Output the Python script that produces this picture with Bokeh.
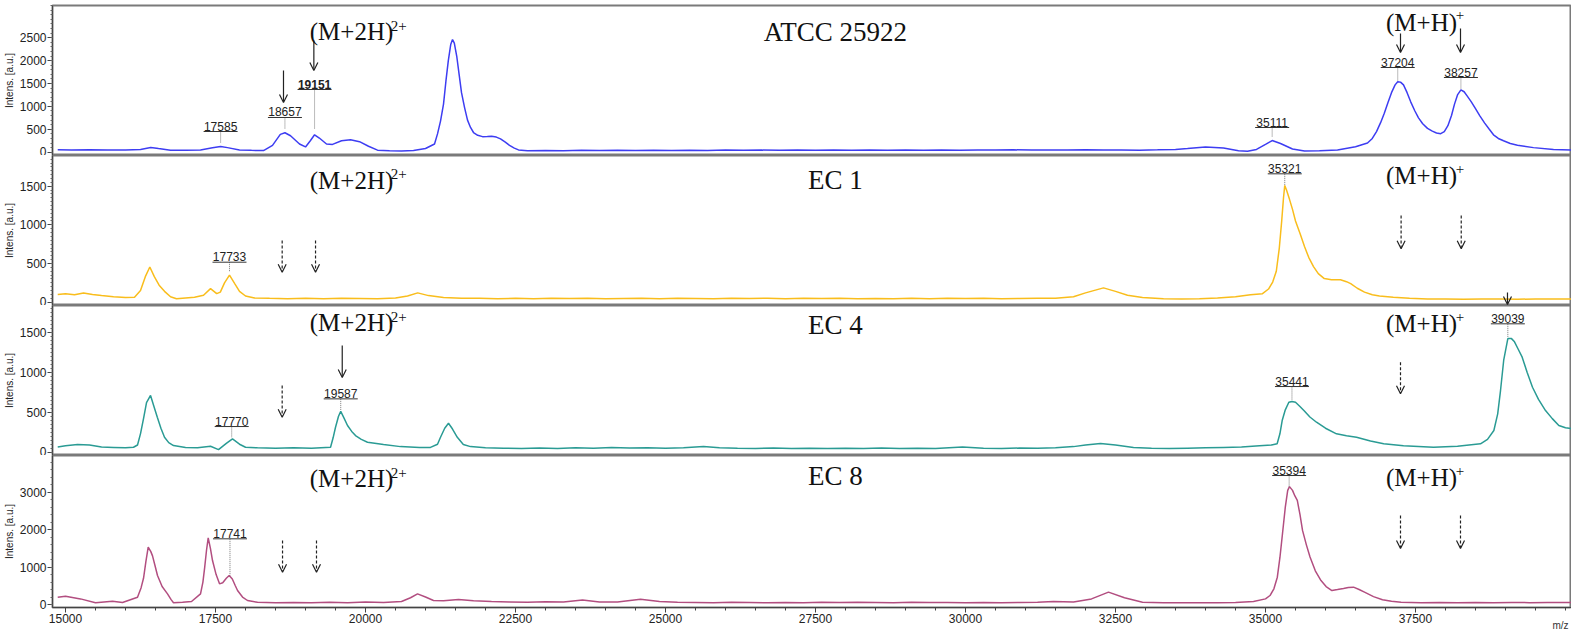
import math
from bokeh.plotting import figure
from bokeh.layouts import column
from bokeh.models import (Range1d, FixedTicker, Label, Arrow, OpenHead,
                          ColumnDataSource, LinearAxis)
from bokeh.embed import file_html
from bokeh.resources import INLINE

# ---------------- data ----------------
atcc_mz = [
    14870, 15100, 15400, 15700, 16000, 16250, 16420, 16550, 16750, 17000,
    17250, 17450, 17585, 17700, 17900, 18100, 18300, 18450, 18580, 18657,
    18750, 18900, 19000, 19080, 19151, 19230, 19350, 19450, 19600, 19750,
    19900, 20050, 20200, 20400, 20600, 20800, 21000, 21150, 21200, 21250,
    21300, 21340, 21380, 21420, 21450, 21480, 21520, 21560, 21600, 21650,
    21700, 21750, 21800, 21870, 21950, 22030, 22100, 22180, 22250, 22330,
    22400, 22480, 22550, 22700, 23000, 23300, 23600, 23900, 24200, 24500,
    24800, 25100, 25400, 25700, 26000, 26300, 26600, 26900, 27200, 27500,
    27800, 28100, 28400, 28700, 29000, 29300, 29600, 29900, 30200, 30500,
    30800, 31100, 31400, 31700, 32000, 32300, 32600, 32900, 33200, 33500,
    33700, 34000, 34300, 34550, 34700, 34850, 35000, 35111, 35250, 35450,
    35650, 35900, 36200, 36500, 36620, 36700, 36780, 36850, 36920, 36980,
    37040, 37100, 37160, 37204, 37250, 37300, 37360, 37420, 37490, 37550,
    37620, 37700, 37780, 37850, 37920, 37980, 38040, 38100, 38150, 38200,
    38257, 38310, 38360, 38430, 38500, 38570, 38650, 38730, 38800, 38880,
    38967, 39080, 39200, 39467, 39800, 40100]
atcc_int = [
    55, 50, 52, 48, 50, 60, 105, 80, 45, 40,
    50, 95, 125, 100, 50, 40, 35, 150, 390, 425,
    360, 180, 115, 250, 380, 310, 180, 170, 250, 270,
    230, 130, 45, 30, 25, 35, 80, 180, 400, 680,
    1050, 1550, 2000, 2350, 2460, 2380, 2100, 1700, 1300, 980,
    700, 540, 430, 370, 340, 345, 350, 330, 290, 220,
    150, 90, 50, 30, 38, 32, 40, 35, 42, 36,
    44, 38, 45, 39, 47, 40, 46, 41, 48, 42,
    47, 43, 49, 44, 50, 45, 48, 44, 50, 46,
    52, 47, 50, 48, 53, 47, 50, 45, 52, 60,
    80, 115, 90, 30, 20, 60, 170, 255, 190, 70,
    25, 30, 50, 120, 170, 200, 300, 450, 650, 850,
    1080, 1300, 1470, 1540, 1530, 1470, 1300, 1100, 900, 750,
    620, 520, 460, 420, 405, 450, 580, 800, 1050, 1250,
    1360, 1320, 1230, 1100, 950, 800, 640, 500, 380, 300,
    250, 190, 150, 100, 60, 45]

ec1_mz = [
    14870, 15000, 15150, 15300, 15450, 15600, 15800, 16000, 16150, 16250,
    16330, 16405, 16480, 16560, 16650, 16750, 16850, 17000, 17150, 17300,
    17417, 17520, 17580, 17650, 17733, 17820, 17900, 18000, 18150, 18400,
    18700, 19000, 19300, 19600, 19900, 20200, 20500, 20700, 20870, 21050,
    21300, 21600, 21900, 22200, 22500, 22800, 23100, 23400, 23700, 24000,
    24300, 24600, 24900, 25200, 25500, 25800, 26100, 26400, 26700, 27000,
    27300, 27600, 27900, 28200, 28500, 28800, 29100, 29400, 29700, 30000,
    30300, 30600, 30900, 31200, 31500, 31800, 32000, 32300, 32500, 32700,
    32950, 33300, 33600, 33900, 34200, 34500, 34750, 34950, 35050, 35120,
    35180, 35230, 35270, 35300, 35321, 35350, 35400, 35450, 35500, 35580,
    35650, 35720, 35800, 35880, 35980, 36100, 36250, 36350, 36420, 36530,
    36650, 36780, 36900, 37130, 37400, 37700, 38000, 38300, 38600, 38900,
    39200, 39500, 39800, 40100]
ec1_int = [
    100, 110, 95, 120, 100, 85, 70, 60, 65, 150,
    330, 455, 330, 220, 140, 70, 45, 55, 65, 90,
    175, 110, 130, 250, 350, 240, 140, 80, 55, 50,
    45, 50, 45, 50, 48, 45, 55, 80, 120, 85,
    60, 50, 52, 45, 50, 44, 52, 46, 50, 44,
    48, 52, 45, 50, 47, 44, 50, 46, 52, 45,
    50, 46, 52, 45, 48, 44, 50, 45, 52, 46,
    50, 44, 48, 52, 50, 70, 120, 185, 140, 90,
    60, 45, 40, 45, 55, 70, 95, 110, 170, 260,
    400, 700, 1050, 1350, 1510, 1450, 1330, 1200, 1050, 880,
    720, 580, 460, 370, 305, 290, 290, 265, 240, 180,
    130, 95, 80, 65, 50, 40, 42, 38, 42, 40,
    38, 42, 40, 42]

ec4_mz = [
    14870, 15000, 15200, 15400, 15600, 15800, 16000, 16133, 16200, 16250,
    16300, 16350, 16417, 16470, 16530, 16590, 16650, 16720, 16800, 17000,
    17200, 17417, 17550, 17680, 17783, 17900, 18000, 18200, 18500, 18800,
    19100, 19417, 19460, 19500, 19550, 19587, 19640, 19700, 19770, 19833,
    19930, 20033, 20300, 20583, 20900, 21083, 21200, 21250, 21320, 21383,
    21450, 21530, 21630, 21750, 22000, 22300, 22600, 22900, 23200, 23500,
    23800, 24100, 24400, 24700, 25000, 25300, 25633, 25900, 26200, 26500,
    26800, 27100, 27400, 27700, 28000, 28300, 28600, 28900, 29200, 29500,
    29950, 30300, 30600, 30900, 31200, 31500, 31800, 32000, 32250, 32500,
    32800, 33100, 33400, 33700, 34000, 34300, 34600, 34900, 35100, 35194,
    35240, 35278, 35330, 35389, 35441, 35500, 35570, 35640, 35740, 35850,
    36000, 36183, 36350, 36517, 36750, 36970, 37300, 37800, 38200, 38583,
    38700, 38806, 38870, 38917, 38970, 39039, 39100, 39150, 39210, 39278,
    39360, 39450, 39550, 39667, 39780, 39889, 40000, 40100]
ec4_int = [
    65, 80, 95, 90, 65, 60, 55, 62, 90, 233,
    420, 620, 710, 580, 437, 300, 187, 120, 83, 60,
    55, 75, 33, 110, 167, 100, 62, 55, 50, 55,
    50, 62, 180, 312, 450, 510, 430, 334, 260, 208,
    160, 125, 96, 70, 60, 60, 100, 187, 300, 362,
    290, 187, 96, 70, 55, 50, 45, 52, 48, 55,
    50, 58, 52, 55, 50, 55, 70, 55, 50, 48,
    52, 46, 50, 45, 50, 46, 52, 48, 50, 46,
    65, 50, 46, 52, 50, 55, 70, 90, 110, 90,
    60, 50, 45, 50, 55, 60, 65, 80, 90, 105,
    230, 396, 530, 625, 635, 625, 575, 521, 440, 375,
    300, 230, 205, 187, 140, 105, 80, 62, 75, 105,
    160, 271, 480, 771, 1150, 1420, 1420, 1380, 1290, 1188,
    1000, 812, 660, 521, 420, 334, 305, 295]

ec8_mz = [
    14870, 15000, 15250, 15500, 15783, 15950, 16200, 16260, 16300, 16340,
    16378, 16420, 16450, 16490, 16533, 16610, 16700, 16760, 16800, 16950,
    17100, 17250, 17290, 17320, 17350, 17378, 17415, 17450, 17510, 17567,
    17620, 17680, 17728, 17780, 17830, 17867, 17950, 18033, 18200, 18500,
    18800, 19100, 19400, 19700, 20000, 20300, 20600, 20750, 20867, 21000,
    21133, 21300, 21550, 21800, 22100, 22400, 22700, 23000, 23300, 23617,
    23900, 24200, 24583, 24900, 25200, 25500, 25800, 26100, 26400, 26700,
    27000, 27300, 27600, 27900, 28200, 28500, 28800, 29100, 29400, 29700,
    30000, 30300, 30600, 30900, 31200, 31467, 31800, 32100, 32383, 32650,
    32950, 33300, 33600, 33900, 34200, 34500, 34800, 35000, 35075, 35140,
    35197, 35240, 35283, 35330, 35370, 35400, 35450, 35490, 35530, 35575,
    35617, 35680, 35742, 35830, 35925, 36010, 36107, 36200, 36300, 36380,
    36467, 36560, 36650, 36800, 36950, 37100, 37260, 37600, 37900, 38200,
    38500, 38800, 39100, 39400, 39700, 40100]
ec8_int = [
    195, 222, 150, 45, 88, 53, 195, 450, 700, 1150,
    1530, 1420, 1300, 1050, 775, 480, 285, 130, 45, 60,
    80, 285, 600, 1000, 1450, 1780, 1500, 1175, 800, 552,
    580, 700, 775, 680, 500, 374, 200, 107, 60, 50,
    55, 45, 60, 50, 65, 55, 80, 180, 285, 200,
    107, 100, 133, 100, 80, 70, 60, 75, 65, 120,
    70, 65, 140, 80, 60, 55, 50, 60, 55, 48,
    55, 50, 58, 52, 60, 55, 50, 58, 52, 55,
    50, 55, 48, 52, 60, 80, 70, 150, 330, 180,
    62, 50, 45, 48, 45, 55, 80, 150, 240, 420,
    730, 1250, 1890, 2600, 3050, 3150, 3050, 2900, 2780, 2400,
    1980, 1600, 1270, 900, 640, 480, 374, 400, 430, 455,
    463, 400, 330, 210, 125, 85, 62, 50, 55, 50,
    55, 50, 55, 50, 55, 52]

strain_names = ["ATCC 25922", "EC 1", "EC 4", "EC 8"]

# labelled peaks: m/z, label (underline) height, peak-top height
p1_peaks = [17585, 18657, 19151, 35111, 37204, 38257]
p1_lab_y = [452, 758, 1369, 539, 1849, 1631]
p1_top_y = [190, 517, 496, 321, 1565, 1369]
p2_peaks = [17733, 35321]
p2_lab_y = [517, 1660]
p2_top_y = [388, 1509]
p3_peaks = [17770, 19587, 35441, 39039]
p3_lab_y = [321, 667, 821, 1605]
p3_top_y = [187, 521, 646, 1437]
p4_peaks = [17741, 35394]
p4_lab_y = [1755, 3446]
p4_top_y = [775, 3134]

# expected ion positions (arrows): m/z, start, end, solid?
p1_arrows = [(18633, 1783, 1083, True), (19139, 2439, 1783, True),
             (37250, 2592, 2177, True), (38250, 2701, 2177, True)]
p2_arrows = [(18611, 798, 388, False), (19167, 798, 388, False),
             (37260, 1121, 690, False), (38262, 1121, 690, False),
             (39033, 125, -30, True)]
p3_arrows = [(18611, 834, 437, False), (19612, 1334, 934, True),
             (37250, 1125, 730, False)]
p4_arrows = [(18617, 1710, 863, False), (19183, 1710, 863, False),
             (37250, 2378, 1496, False), (38250, 2378, 1496, False)]

x_major = [15000, 17500, 20000, 22500, 25000, 27500, 30000, 32500, 35000, 37500]
x_unit_pos = 39917
x_unit_text = "m/z"

panels = [
    dict(mz=atcc_mz, inten=atcc_int, color="#3d3df2", name=strain_names[0],
         yr=(-72, 3203), yt=[0, 500, 1000, 1500, 2000, 2500], minor=100,
         h=155, top=5, bottom=0, title_y=2635, ion2_y=2635, ion1_y=2832,
         peaks=p1_peaks, lab_y=p1_lab_y, top_y=p1_top_y, arrows=p1_arrows, bold=[19151]),
    dict(mz=ec1_mz, inten=ec1_int, color="#f9bd1c", name=strain_names[1],
         yr=(-43, 1897), yt=[0, 500, 1000, 1500], minor=50,
         h=150, top=0, bottom=0, title_y=1574, ion2_y=1574, ion1_y=1638,
         peaks=p2_peaks, lab_y=p2_lab_y, top_y=p2_top_y, arrows=p2_arrows, bold=[]),
    dict(mz=ec4_mz, inten=ec4_int, color="#2a9b94", name=strain_names[2],
         yr=(-41, 1834), yt=[0, 500, 1000, 1500], minor=50,
         h=150, top=0, bottom=0, title_y=1596, ion2_y=1621, ion1_y=1609,
         peaks=p3_peaks, lab_y=p3_lab_y, top_y=p3_top_y, arrows=p3_arrows, bold=[]),
    dict(mz=ec8_mz, inten=ec8_int, color="#b24e80", name=strain_names[3],
         yr=(-80, 3981), yt=[0, 1000, 2000, 3000], minor=200,
         h=189, top=0, bottom=37, title_y=3420, ion2_y=3366, ion1_y=3393,
         peaks=p4_peaks, lab_y=p4_lab_y, top_y=p4_top_y, arrows=p4_arrows, bold=[]),
]

x_range = Range1d(14783, 40100)
SERIF = "Liberation Serif"
SANS = "Liberation Sans"
DA_PX = 16.667  # m/z per screen pixel (for underline widths)

figs = []
for i, P in enumerate(panels):
    last = i == len(panels) - 1
    p = figure(width=1571, height=P["h"], x_range=x_range,
               y_range=Range1d(*P["yr"]), output_backend="svg",
               toolbar_location=None,
               x_axis_location="below" if last else None,
               min_border_left=52, min_border_right=0,
               min_border_top=P["top"], min_border_bottom=P["bottom"])
    p.grid.visible = False
    p.outline_line_color = "#7a7a7a"
    p.outline_line_width = 2
    p.background_fill_color = "white"
    p.border_fill_color = "white"

    yax = p.yaxis[0]
    ymax = P["yr"][1]
    yax.ticker = FixedTicker(ticks=P["yt"],
                             minor_ticks=list(range(0, int(ymax), P["minor"])))
    yax.major_tick_out = 5
    yax.major_tick_in = 0
    yax.minor_tick_out = 2
    yax.minor_tick_in = 0
    yax.major_label_standoff = 1
    yax.major_label_text_font = SANS
    yax.major_label_text_font_size = "12px"
    yax.major_label_text_color = "#222222"
    yax.axis_line_color = "#444444"
    yax.major_tick_line_color = "#444444"
    yax.minor_tick_line_color = "#666666"
    yax.axis_label = "Intens. [a.u.]"
    yax.axis_label_text_font = SANS
    yax.axis_label_text_font_size = "10px"
    yax.axis_label_text_font_style = "normal"
    yax.axis_label_text_color = "#222222"
    yax.axis_label_standoff = 2

    if last:
        xax = p.xaxis[0]
        xax.ticker = FixedTicker(ticks=x_major,
                                 minor_ticks=list(range(15000, 40100, 500)))
        xax.major_tick_out = 5
        xax.major_tick_in = 0
        xax.minor_tick_out = 3
        xax.minor_tick_in = 0
        xax.major_label_standoff = 1
        xax.major_label_text_font = SANS
        xax.major_label_text_font_size = "12px"
        xax.major_label_text_color = "#222222"
        xax.axis_line_color = "#444444"
        xax.major_tick_line_color = "#444444"
        xax.minor_tick_line_color = "#444444"
        unit_axis = LinearAxis(ticker=FixedTicker(ticks=[x_unit_pos]),
                               major_label_overrides={x_unit_pos: x_unit_text},
                               axis_line_color=None, major_tick_line_color=None,
                               minor_tick_line_color=None, major_tick_out=0,
                               major_tick_in=0, major_label_standoff=-6,
                               major_label_text_font=SANS,
                               major_label_text_font_size="10px",
                               major_label_text_color="#333333")
        p.add_layout(unit_axis, "below")

    # spectrum
    p.line(P["mz"], P["inten"], line_color=P["color"], line_width=1.5)

    # peak labels (underlined) with dotted connector
    src = ColumnDataSource(dict(
        x=P["peaks"], y=P["lab_y"], top=P["top_y"],
        x0=[m - 17 * DA_PX for m in P["peaks"]],
        x1=[m + 17 * DA_PX for m in P["peaks"]]))
    p.segment(x0="x", y0="y", x1="x", y1="top", source=src,
              line_color="#777777", line_width=1, line_dash="1 1")
    p.segment(x0="x0", y0="y", x1="x1", y1="y", source=src,
              line_color="#333333", line_width=1)
    for m, ly in zip(P["peaks"], P["lab_y"]):
        p.add_layout(Label(x=m, y=ly, y_offset=1, text=str(m), text_font=SANS,
                           text_font_size="12px", text_align="center",
                           text_baseline="bottom", text_color="#222222",
                           text_font_style="bold" if m in P["bold"] else "normal"))

    # arrows
    for (ax, y0, y1, solid) in P["arrows"]:
        p.add_layout(Arrow(end=OpenHead(size=8, line_width=1.2, line_color="#222222"),
                           x_start=ax, y_start=y0, x_end=ax, y_end=y1,
                           line_color="#222222", line_width=1.2,
                           line_dash="solid" if solid else "3 2"))

    # texts
    p.add_layout(Label(x=27833, y=P["title_y"], text=P["name"], text_font=SERIF,
                       text_font_size="27px", text_align="center",
                       text_baseline="middle", text_color="#111111"))
    p.add_layout(Label(x=19767, y=P["ion2_y"], text="(M+2H)", text_font=SERIF,
                       text_font_size="25px", text_align="center",
                       text_baseline="middle", text_color="#111111"))
    p.add_layout(Label(x=20420, y=P["ion2_y"], y_offset=6, text="2+", text_font=SERIF,
                       text_font_size="15px", text_align="left",
                       text_baseline="middle", text_color="#111111"))
    p.add_layout(Label(x=37600, y=P["ion1_y"], text="(M+H)", text_font=SERIF,
                       text_font_size="25px", text_align="center",
                       text_baseline="middle", text_color="#111111"))
    p.add_layout(Label(x=38170, y=P["ion1_y"], y_offset=7, text="+", text_font=SERIF,
                       text_font_size="15px", text_align="left",
                       text_baseline="middle", text_color="#111111"))
    figs.append(p)

layout = column(*figs, spacing=0)
open("out.html", "w").write(file_html(layout, INLINE))
